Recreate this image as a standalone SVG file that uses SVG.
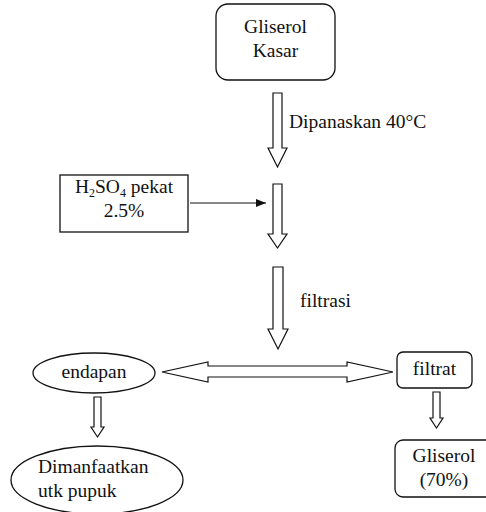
<svg xmlns="http://www.w3.org/2000/svg" width="486" height="512" viewBox="0 0 486 512">
<style>
  .box{fill:#fff;stroke:#111;stroke-width:1.3}
  .blk{fill:#fff;stroke:#111;stroke-width:1.2;stroke-linejoin:miter}
  text{font-family:'Liberation Serif','DejaVu Serif',serif;font-size:19.5px;fill:#111}
  .c{text-anchor:middle}
</style>
<defs>
  <marker id="ah" markerWidth="10" markerHeight="8" refX="10" refY="4" orient="auto" markerUnits="userSpaceOnUse">
    <path d="M0,0 L10,4 L0,8 z" fill="#111"/>
  </marker>
</defs>
<rect width="486" height="512" fill="#fff"/>
<g font-family="Liberation Serif, serif">
<g id="connectors">
  <polygon class="blk" points="273,93 282,93 282,148 287,148 277.5,167 268,148 273,148"/>
  <polygon class="blk" points="273,184 282,184 282,234 287,234 277.5,248 268,234 273,234"/>
  <polygon class="blk" points="273,267 283,267 283,329 288,329 278,349 268,329 273,329"/>
  <polygon class="blk" points="162,372 208,362 208,366 347,366 347,362 393,372 347,382 347,377 208,377 208,382"/>
  <polygon class="blk" points="94,397 101,397 101,427 104,427 97.5,437 91,427 94,427"/>
  <polygon class="blk" points="433,392 440,392 440,418 443,418 436.5,428 430,418 433,418"/>
  <line x1="190" y1="203" x2="266" y2="203" stroke="#111" stroke-width="1.2" marker-end="url(#ah)"/>
  <text x="289" y="128">Dipanaskan 40°C</text>
  <text x="300" y="307">filtrasi</text>
</g>
<g id="gliserol-kasar">
  <rect class="box" x="216" y="4" width="119" height="76" rx="12"/>
  <text class="c" x="275.5" y="33">Gliserol</text>
  <text class="c" x="275.5" y="57">Kasar</text>
</g>
<g id="h2so4">
  <rect class="box" x="60" y="175" width="128" height="57"/>
  <text class="c" x="124" y="193">H<tspan font-size="12" dy="4">2</tspan><tspan dy="-4">SO</tspan><tspan font-size="12" dy="4">4</tspan><tspan dy="-4"> pekat</tspan></text>
  <text class="c" x="124" y="217">2.5%</text>
</g>
<g id="endapan">
  <ellipse class="box" cx="94" cy="373" rx="61" ry="20"/>
  <text class="c" x="94" y="378">endapan</text>
</g>
<g id="filtrat">
  <rect class="box" x="397" y="352" width="75" height="36" rx="6"/>
  <text class="c" x="434.5" y="375">filtrat</text>
</g>
<g id="gliserol-70">
  <rect class="box" x="395" y="440" width="100" height="57" rx="8"/>
  <text class="c" x="444" y="462">Gliserol</text>
  <text class="c" x="444" y="486">(70%)</text>
</g>
<g id="dimanfaatkan">
  <ellipse class="box" cx="97" cy="480" rx="86" ry="34"/>
  <text x="38" y="473">Dimanfaatkan</text>
  <text x="38" y="497">utk pupuk</text>
</g>
</g>
</svg>
